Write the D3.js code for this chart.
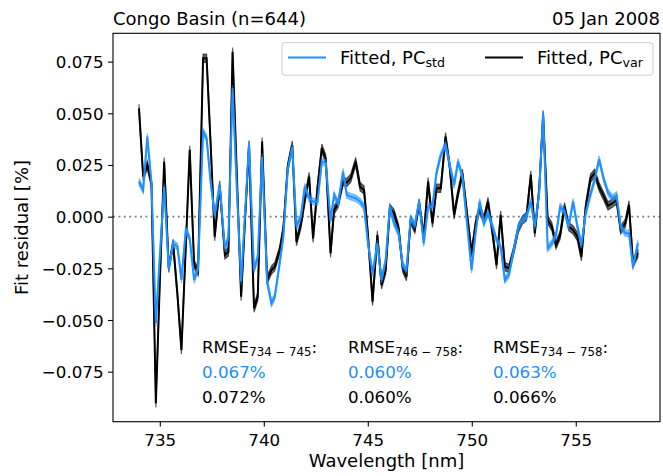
<!DOCTYPE html>
<html>
<head>
<meta charset="utf-8">
<script src="https://cdn.jsdelivr.net/npm/d3@7"></script>
<style>
  html, body { margin: 0; padding: 0; background: #fff; }
  svg { display: block; font-family: "DejaVu Sans", sans-serif; }
</style>
</head>
<body>
<svg id="chart" width="663" height="476"></svg>
<script>
// Spectral grid [nm] and mean fit residuals [%] for the two PC fits
const wavelength = [
  734.00, 734.20, 734.40, 734.60, 734.81, 735.00, 735.21, 735.43, 735.64, 735.85,
  736.04, 736.25, 736.44, 736.65, 736.84, 737.08, 737.25, 737.45, 737.64, 737.88,
  738.13, 738.30, 738.50, 738.70, 738.91, 739.10, 739.29, 739.53, 739.71, 739.92,
  740.16, 740.37, 740.53, 740.77, 740.94, 741.15, 741.37, 741.57, 741.78, 741.97,
  742.18, 742.37, 742.58, 742.79, 742.98, 743.21, 743.38, 743.58, 743.81, 743.99,
  744.18, 744.42, 744.63, 744.82, 745.01, 745.23, 745.46, 745.66, 745.86, 746.06,
  746.26, 746.48, 746.68, 746.86, 747.06, 747.26, 747.47, 747.69, 747.90, 748.11,
  748.30, 748.51, 748.74, 748.94, 749.15, 749.34, 749.55, 749.77, 749.99, 750.19,
  750.38, 750.58, 750.78, 751.00, 751.19, 751.39, 751.59, 751.79, 752.02, 752.24,
  752.44, 752.63, 752.84, 753.03, 753.24, 753.43, 753.65, 753.85, 754.05, 754.25,
  754.46, 754.66, 754.87, 755.08, 755.27, 755.48, 755.71, 755.91, 756.12, 756.35,
  756.55, 756.76, 756.96, 757.16, 757.38, 757.56, 757.75, 757.99
];

const residualStd = [
  0.0169, 0.0129, 0.0387, 0.0161, -0.0516, -0.0190, 0.0145, -0.0250, -0.0129, -0.0145,
  -0.0306, -0.0064, -0.0105, -0.0306, -0.0250, 0.0411, 0.0380, 0.0161, 0.0008, 0.0153,
  -0.0153, -0.0100, 0.0621, 0.0140, -0.0314, 0.0020, 0.0355, -0.0258, -0.0194, 0.0290,
  -0.0314, -0.0419, -0.0387, -0.0220, -0.0097, 0.0226, 0.0335, -0.0048, 0.0000, 0.0145,
  0.0089, 0.0073, 0.0070, 0.0266, 0.0260, -0.0020, 0.0105, 0.0065, 0.0218, 0.0105,
  0.0097, 0.0089, 0.0073, 0.0048, -0.0129, -0.0274, -0.0129, -0.0306, -0.0210, 0.0048,
  -0.0032, -0.0080, -0.0234, -0.0258, -0.0008, -0.0040, 0.0073, -0.0129, 0.0048, 0.0048,
  0.0210, 0.0298, 0.0347, 0.0250, 0.0153, 0.0266, 0.0194, -0.0032, -0.0258, -0.0073,
  0.0073, -0.0032, 0.0016, -0.0048, -0.0113, -0.0145, -0.0306, -0.0280, -0.0161, -0.0048,
  -0.0016, 0.0000, 0.0073, -0.0048, 0.0113, 0.0500, -0.0153, -0.0129, -0.0089, 0.0048,
  0.0024, -0.0048, 0.0073, -0.0048, -0.0137, 0.0016, 0.0110, 0.0178, 0.0278, 0.0180,
  0.0117, 0.0089, 0.0105, -0.0048, -0.0080, -0.0080, -0.0242, -0.0129
];

const residualVar = [
  0.0524, 0.0194, 0.0250, 0.0161, -0.0903, -0.0320, 0.0266, -0.0250, -0.0130, -0.0380,
  -0.0645, -0.0144, 0.0323, -0.0230, -0.0266, 0.0766, 0.0766, 0.0340, -0.0097, 0.0153,
  -0.0185, -0.0170, 0.0798, 0.0210, -0.0387, -0.0010, 0.0347, -0.0443, -0.0387, 0.0363,
  -0.0306, -0.0258, -0.0242, -0.0160, -0.0060, 0.0240, 0.0347, -0.0121, -0.0040, 0.0080,
  0.0194, -0.0105, 0.0137, 0.0331, 0.0280, -0.0177, 0.0032, 0.0065, 0.0170, 0.0165,
  0.0186, 0.0266, 0.0145, 0.0129, -0.0090, -0.0411, -0.0089, -0.0330, -0.0258, 0.0040,
  0.0016, -0.0056, -0.0250, -0.0290, -0.0016, -0.0060, 0.0065, -0.0097, 0.0169, -0.0032,
  0.0137, 0.0137, 0.0387, 0.0242, 0.0008, 0.0113, 0.0210, 0.0016, -0.0177, -0.0032,
  0.0040, -0.0016, 0.0073, -0.0080, -0.0234, 0.0008, -0.0242, -0.0250, -0.0161, -0.0056,
  -0.0016, 0.0000, 0.0202, -0.0080, 0.0129, 0.0492, -0.0016, -0.0048, -0.0137, -0.0089,
  0.0048, -0.0048, -0.0064, -0.0097, -0.0194, 0.0048, 0.0186, 0.0210, 0.0145, 0.0097,
  0.0052, 0.0065, 0.0081, -0.0064, -0.0032, 0.0057, -0.0226, -0.0177
];

// half-width of the shaded spread around each mean residual [%]
const spreadStd = 0.0016;
const spreadVar = 0.0020;

const xTicks = [735, 740, 745, 750, 755];
const yTicks = [-0.075, -0.050, -0.025, 0.000, 0.025, 0.050, 0.075];

const rmseLabels = [
  { range: ["734", "745"], std: "0.067%", vari: "0.072%" },
  { range: ["746", "758"], std: "0.060%", vari: "0.060%" },
  { range: ["734", "758"], std: "0.063%", vari: "0.066%" }
];

const titleLeft = "Congo Basin (n=644)";
const titleRight = "05 Jan 2008";

const BLUE = "#1e90ff";

const svg = d3.select("#chart");
const margin = { left: 113, right: 3, top: 33.3, bottom: 54.3 };
const W = 663, H = 476;
const x0 = margin.left, x1 = W - margin.right;
const y0 = margin.top, y1 = H - margin.bottom;

const x = d3.scaleLinear().domain([732.75, 759.05]).range([x0, x1]);
const y = d3.scaleLinear().domain([-0.0992, 0.0887]).range([y1, y0]);

const fmtY = v => (v < 0 ? "\u2212" : "") + Math.abs(v).toFixed(3);

// zero reference line
svg.append("line")
  .attr("x1", x0).attr("x2", x1)
  .attr("y1", y(0)).attr("y2", y(0))
  .attr("stroke", "#808080").attr("stroke-width", 1.6)
  .attr("stroke-dasharray", "2,3.4");

svg.append("defs").append("clipPath").attr("id", "plotclip")
  .append("rect").attr("x", x0).attr("y", y0).attr("width", x1 - x0).attr("height", y1 - y0);

const plot = svg.append("g").attr("clip-path", "url(#plotclip)");

function drawSeries(values, spread, lineColor, bandColor, bandOpacity) {
  const pts = wavelength.map((w, i) => ({ w, v: values[i] }));
  const area = d3.area()
    .x(d => x(d.w))
    .y0(d => y(d.v - spread))
    .y1(d => y(d.v + spread));
  plot.append("path").datum(pts)
    .attr("d", area)
    .attr("fill", bandColor).attr("fill-opacity", bandOpacity)
    .attr("stroke", bandColor).attr("stroke-opacity", bandOpacity).attr("stroke-width", 1.2);
  const line = d3.line().x(d => x(d.w)).y(d => y(d.v));
  plot.append("path").datum(pts)
    .attr("d", line)
    .attr("fill", "none")
    .attr("stroke", lineColor).attr("stroke-width", 2)
    .attr("stroke-linejoin", "miter").attr("stroke-miterlimit", 4);
}

drawSeries(residualVar, spreadVar, "#000000", "#000000", 0.6);
drawSeries(residualStd, spreadStd, BLUE, BLUE, 0.5);

// axes
const xAxis = d3.axisBottom(x).tickValues(xTicks).tickFormat(d3.format("d"))
  .tickSize(4.9).tickPadding(3.5);
const yAxis = d3.axisLeft(y).tickValues(yTicks).tickFormat(fmtY)
  .tickSize(4.9).tickPadding(4.5);

const gx = svg.append("g").attr("transform", `translate(0,${y1})`).call(xAxis);
const gy = svg.append("g").attr("transform", `translate(${x0},0)`).call(yAxis);
[gx, gy].forEach(g => {
  g.select(".domain").remove();
  g.selectAll(".tick line").attr("stroke", "#000").attr("stroke-width", 1.1);
  g.selectAll(".tick text").attr("fill", "#000")
    .style("font-family", "DejaVu Sans").style("font-size", "16.7px");
});
gx.selectAll(".tick text").attr("dy", "0.95em");
gy.selectAll(".tick text").attr("dy", "0.36em");

// frame
svg.append("rect")
  .attr("x", x0).attr("y", y0).attr("width", x1 - x0).attr("height", y1 - y0)
  .attr("fill", "none").attr("stroke", "#000").attr("stroke-width", 1.1);

// titles
svg.append("text").attr("x", x0).attr("y", 25)
  .style("font-size", "18px").text(titleLeft);
svg.append("text").attr("x", x1).attr("y", 25).attr("text-anchor", "end")
  .style("font-size", "18px").text(titleRight);

// axis labels
svg.append("text").attr("x", (x0 + x1) / 2).attr("y", 467).attr("text-anchor", "middle")
  .style("font-size", "18px").text("Wavelength [nm]");
svg.append("text")
  .attr("transform", `translate(28,${(y0 + y1) / 2}) rotate(-90)`)
  .attr("text-anchor", "middle")
  .style("font-size", "18px").text("Fit residual [%]");

// legend
const lg = svg.append("g");
lg.append("rect")
  .attr("x", 282).attr("y", 42.7).attr("width", 371).attr("height", 32.5)
  .attr("rx", 3).attr("ry", 3)
  .attr("fill", "#fff").attr("fill-opacity", 0.8)
  .attr("stroke", "#cccccc").attr("stroke-width", 1);
const legendItems = [
  { color: BLUE, sub: "std", lx: 288 },
  { color: "#000", sub: "var", lx: 485 }
];
legendItems.forEach(it => {
  lg.append("line")
    .attr("x1", it.lx).attr("x2", it.lx + 38)
    .attr("y1", 57.5).attr("y2", 57.5)
    .attr("stroke", it.color).attr("stroke-width", 2);
  const t = lg.append("text").attr("x", it.lx + 52).attr("y", 64).style("font-size", "18px");
  t.append("tspan").text("Fitted, PC");
  t.append("tspan").attr("dy", 3).style("font-size", "12.6px").text(it.sub);
});

// RMSE annotations
const annX = [202, 348, 493];
rmseLabels.forEach((r, i) => {
  const t = svg.append("text").attr("x", annX[i]).attr("y", 352.7).style("font-size", "16.7px");
  t.append("tspan").text("RMSE");
  t.append("tspan").attr("dy", 3).style("font-size", "11.8px")
    .text(r.range[0] + " \u2212 " + r.range[1]);
  t.append("tspan").attr("dy", -3).text(":");
  svg.append("text").attr("x", annX[i]).attr("y", 377.7).style("font-size", "16.7px")
    .attr("fill", BLUE).text(r.std);
  svg.append("text").attr("x", annX[i]).attr("y", 402.7).style("font-size", "16.7px")
    .attr("fill", "#000").text(r.vari);
});
</script>
</body>
</html>
